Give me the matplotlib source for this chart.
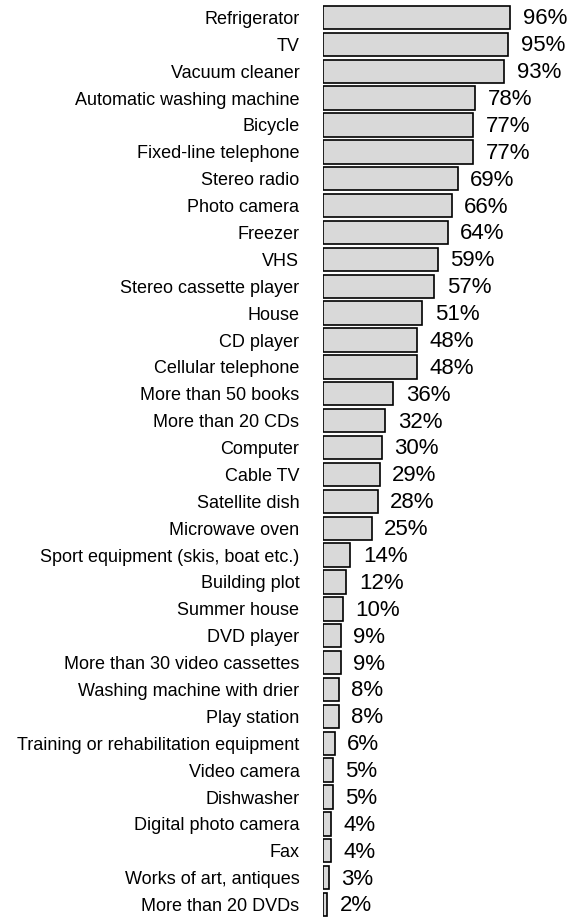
import numpy as np
from matplotlib import pyplot as plt

items = [
    'Refrigerator', 'TV', 'Vacuum cleaner', 'Automatic washing machine', 'Bicycle',
    'Fixed-line telephone', 'Stereo radio', 'Photo camera', 'Freezer', 'VHS',
    'Stereo cassette player', 'House', 'CD player', 'Cellular telephone',
    'More than 50 books', 'More than 20 CDs', 'Computer', 'Cable TV', 'Satellite dish',
    'Microwave oven', 'Sport equipment (skis, boat etc.)', 'Building plot', 'Summer house',
    'DVD player', 'More than 30 video cassettes', 'Washing machine with drier',
    'Play station', 'Training or rehabilitation equipment', 'Video camera', 'Dishwasher',
    'Digital photo camera', 'Fax', 'Works of art, antiques', 'More than 20 DVDs',
]
shares = [96, 95, 93, 78, 77, 77, 69, 66, 64, 59, 57, 51, 48, 48, 36, 32, 30, 29, 28,
          25, 14, 12, 10, 9, 9, 8, 8, 6, 5, 5, 4, 4, 3, 2]

plt.rcParams['font.family'] = ['Liberation Sans', 'DejaVu Sans']

fig = plt.figure(figsize=(5.84, 9.22), dpi=100)
ax = fig.add_axes([323 / 584, 4 / 922, 261 / 584, 914 / 922])

y = np.arange(len(items))
ax.barh(y, shares, height=0.87, color='#d9d9d9', edgecolor='black', linewidth=1.2)
for yi, v in zip(y, shares):
    ax.annotate(f'{v}%', (v, yi), xytext=(9, -1), textcoords='offset points',
                va='center', ha='left', fontsize=16)

ax.set_yticks(y)
ax.set_yticklabels(items, fontsize=13)
ax.tick_params(axis='y', length=0, pad=17)
ax.set_xticks([])
ax.set_xlim(0, 261 / 1.95)
ax.set_ylim(len(items) - 0.5, -0.5)
for s in ax.spines.values():
    s.set_visible(False)

fig.savefig('out.png', dpi=100)
